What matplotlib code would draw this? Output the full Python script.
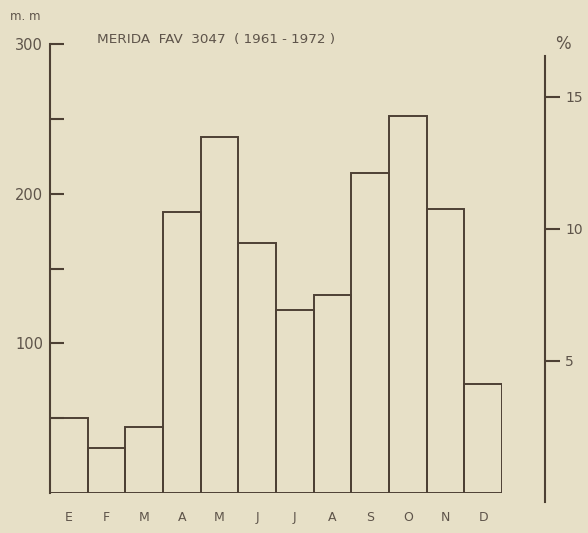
import matplotlib
matplotlib.use('Agg')
import numpy as np
import matplotlib.pyplot as plt

# Monthly rainfall at Merida (mm)
months = ['E', 'F', 'M', 'A', 'M', 'J', 'J', 'A', 'S', 'O', 'N', 'D']
rain_mm = [50, 30, 44, 188, 238, 167, 122, 132, 214, 252, 190, 73]

mm_ticks = [100, 200, 300]
mm_minor = [50, 150, 250]
pct_ticks = [5, 10, 15]
mm_per_pct = 17.66   # scale of the % axis as drawn

bg = '#e7e0c7'
ink = '#4d4034'
txt = '#5e544a'

fig = plt.figure(figsize=(5.88, 5.33), dpi=100, facecolor=bg)
W, H = 588, 533

# main axes: x 50..502 px, y 44 (300 mm) .. 493 (0 mm)
ax = fig.add_axes([50 / W, 1 - 493 / H, (502 - 50) / W, (493 - 44) / H])
ax.set_facecolor('none')
x = np.arange(len(months))
ax.bar(x, rain_mm, width=1.0, facecolor='none', edgecolor=ink, linewidth=1.4)
ax.set_xlim(-0.5, len(months) - 0.5)
ax.set_ylim(0, 300)

for s in ['top', 'right', 'bottom']:
    ax.spines[s].set_visible(False)
ax.spines['left'].set_color(ink)
ax.spines['left'].set_linewidth(1.5)

ax.set_yticks(mm_ticks)
ax.set_yticks(mm_minor, minor=True)
ax.tick_params(axis='y', which='both', direction='in', length=10, width=1.5,
               color=ink, labelcolor=txt, labelsize=10.5, pad=5)
ax.set_xticks(x)
ax.set_xticklabels(months)
ax.tick_params(axis='x', length=0, pad=13, labelsize=9, labelcolor=txt)

# % axis, drawn as its own spine a little to the right
px_per_mm = (493 - 44) / 300
spine_mm = (-(502 - 493) / px_per_mm, (493 - 56) / px_per_mm)
ax2 = fig.add_axes([545 / W, 1 - 502 / H, 0.001, (502 - 56) / H])
ax2.set_facecolor('none')
ax2.set_ylim(spine_mm[0] / mm_per_pct, spine_mm[1] / mm_per_pct)
for s in ['top', 'right', 'bottom']:
    ax2.spines[s].set_visible(False)
ax2.spines['left'].set_color(ink)
ax2.spines['left'].set_linewidth(1.5)
ax2.set_xticks([])
ax2.set_yticks(pct_ticks)
ax2.yaxis.tick_right()
ax2.tick_params(axis='y', direction='out', length=10, width=1.5, color=ink,
                labelcolor=txt, labelsize=10, pad=4)

fig.text(10 / W, 1 - 17 / H, 'm. m', fontsize=8.5, color=txt, va='center')
fig.text(555 / W, 1 - 44 / H, '%', fontsize=12, color=txt, va='center')
fig.text(97 / W, 1 - 40 / H, 'MERIDA  FAV  3047  ( 1961 - 1972 )',
         fontsize=9.7, color=txt, va='center')

plt.savefig('out.png', dpi=100, facecolor=bg)
